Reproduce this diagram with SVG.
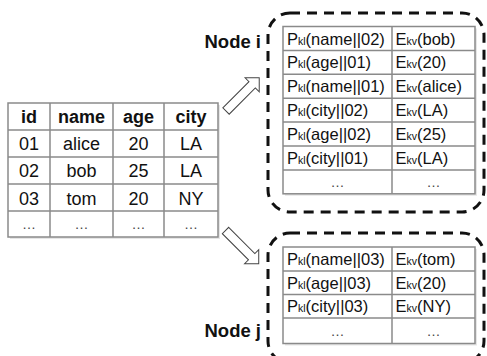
<svg xmlns="http://www.w3.org/2000/svg" width="487" height="356" viewBox="0 0 487 356">
<style>
.grid{fill:#fff;stroke:#8a8a8a;stroke-width:1.5}
.ln{stroke:#8a8a8a;stroke-width:1.5}
.sh{fill:#e6e6e6}
.t{font-family:"Liberation Sans",Arial,sans-serif;font-size:18px;fill:#111}
.h{font-family:"Liberation Sans",Arial,sans-serif;font-size:18px;font-weight:bold;fill:#111}
.r{font-family:"Liberation Sans",Arial,sans-serif;font-size:16.5px;fill:#111}
.sub{font-size:10.5px}
.dots{font-family:"Liberation Sans",Arial,sans-serif;font-size:14px;fill:#444}
.lbl{font-family:"Liberation Sans",Arial,sans-serif;font-size:18.5px;font-weight:bold;fill:#111}
.node{fill:none;stroke:#111;stroke-width:3;stroke-dasharray:10 7}
.arr{fill:#fff;stroke:#444;stroke-width:1}
</style>
<defs>
<polygon id="arrow" points="0,-4.5 37,-4.5 37,-10 47,0 37,10 37,4.5 0,4.5"/>
</defs>

<g id="source-table">
<rect class="sh" x="10" y="105" width="210" height="134"/>
<rect class="grid" x="8" y="103" width="210" height="134"/>
<line class="ln" x1="50" y1="103" x2="50" y2="237"/>
<line class="ln" x1="113" y1="103" x2="113" y2="237"/>
<line class="ln" x1="164" y1="103" x2="164" y2="237"/>
<line class="ln" x1="8" y1="130" x2="218" y2="130"/>
<line class="ln" x1="8" y1="157" x2="218" y2="157"/>
<line class="ln" x1="8" y1="184" x2="218" y2="184"/>
<line class="ln" x1="8" y1="211" x2="218" y2="211"/>
<g text-anchor="middle">
<text class="h" x="29" y="123">id</text>
<text class="h" x="81.5" y="123">name</text>
<text class="h" x="138.5" y="123">age</text>
<text class="h" x="191" y="123">city</text>
<text class="t" x="29" y="150">01</text>
<text class="t" x="81.5" y="150">alice</text>
<text class="t" x="138.5" y="150">20</text>
<text class="t" x="191" y="150">LA</text>
<text class="t" x="29" y="177">02</text>
<text class="t" x="81.5" y="177">bob</text>
<text class="t" x="138.5" y="177">25</text>
<text class="t" x="191" y="177">LA</text>
<text class="t" x="29" y="204.5">03</text>
<text class="t" x="81.5" y="204.5">tom</text>
<text class="t" x="138.5" y="204.5">20</text>
<text class="t" x="191" y="204.5">NY</text>
<text class="dots" x="29" y="229">…</text>
<text class="dots" x="81.5" y="229">…</text>
<text class="dots" x="138.5" y="229">…</text>
<text class="dots" x="191" y="229">…</text>
</g>
</g>

<g id="node-i">
<rect class="node" x="268" y="13" width="216" height="199" rx="22"/>
<text class="lbl" x="261" y="48" text-anchor="end">Node i</text>
<rect class="sh" x="285" y="28.5" width="192" height="167.3"/>
<rect class="grid" x="283" y="26.5" width="192" height="167.3"/>
<line class="ln" x1="392" y1="26.5" x2="392" y2="193.8"/>
<line class="ln" x1="283" y1="50.4" x2="475" y2="50.4"/>
<line class="ln" x1="283" y1="74.3" x2="475" y2="74.3"/>
<line class="ln" x1="283" y1="98.2" x2="475" y2="98.2"/>
<line class="ln" x1="283" y1="122.1" x2="475" y2="122.1"/>
<line class="ln" x1="283" y1="146" x2="475" y2="146"/>
<line class="ln" x1="283" y1="169.9" x2="475" y2="169.9"/>
<text class="r" x="287" y="44.5">P<tspan class="sub">kl</tspan>(name||02)</text>
<text class="r" x="395.5" y="44.5">E<tspan class="sub">kv</tspan>(bob)</text>
<text class="r" x="287" y="68.4">P<tspan class="sub">kl</tspan>(age||01)</text>
<text class="r" x="395.5" y="68.4">E<tspan class="sub">kv</tspan>(20)</text>
<text class="r" x="287" y="92.3">P<tspan class="sub">kl</tspan>(name||01)</text>
<text class="r" x="395.5" y="92.3">E<tspan class="sub">kv</tspan>(alice)</text>
<text class="r" x="287" y="116.2">P<tspan class="sub">kl</tspan>(city||02)</text>
<text class="r" x="395.5" y="116.2">E<tspan class="sub">kv</tspan>(LA)</text>
<text class="r" x="287" y="140.1">P<tspan class="sub">kl</tspan>(age||02)</text>
<text class="r" x="395.5" y="140.1">E<tspan class="sub">kv</tspan>(25)</text>
<text class="r" x="287" y="164">P<tspan class="sub">kl</tspan>(city||01)</text>
<text class="r" x="395.5" y="164">E<tspan class="sub">kv</tspan>(LA)</text>
<text class="dots" x="337.5" y="187" text-anchor="middle">…</text>
<text class="dots" x="433.5" y="187" text-anchor="middle">…</text>
</g>

<g id="node-j">
<rect class="node" x="268" y="233" width="216" height="130" rx="22"/>
<text class="lbl" x="261" y="337" text-anchor="end">Node j</text>
<rect class="sh" x="285" y="249" width="192" height="96.5"/>
<rect class="grid" x="283" y="247" width="192" height="96.5"/>
<line class="ln" x1="392" y1="247" x2="392" y2="343.5"/>
<line class="ln" x1="283" y1="271" x2="475" y2="271"/>
<line class="ln" x1="283" y1="294.5" x2="475" y2="294.5"/>
<line class="ln" x1="283" y1="318" x2="475" y2="318"/>
<text class="r" x="287" y="265">P<tspan class="sub">kl</tspan>(name||03)</text>
<text class="r" x="395.5" y="265">E<tspan class="sub">kv</tspan>(tom)</text>
<text class="r" x="287" y="288.7">P<tspan class="sub">kl</tspan>(age||03)</text>
<text class="r" x="395.5" y="288.7">E<tspan class="sub">kv</tspan>(20)</text>
<text class="r" x="287" y="312.2">P<tspan class="sub">kl</tspan>(city||03)</text>
<text class="r" x="395.5" y="312.2">E<tspan class="sub">kv</tspan>(NY)</text>
<text class="dots" x="337.5" y="336" text-anchor="middle">…</text>
<text class="dots" x="433.5" y="336" text-anchor="middle">…</text>
</g>

<g id="connectors">
<use href="#arrow" class="arr" transform="translate(226,111) rotate(-45)"/>
<use href="#arrow" class="arr" transform="translate(225.5,230.5) rotate(45)"/>
</g>
</svg>
